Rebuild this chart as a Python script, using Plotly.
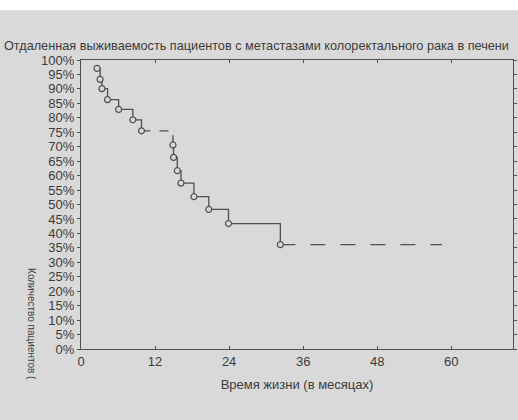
import plotly.graph_objects as go

# Kaplan-Meier estimate
months = [2.6, 3.1, 3.4, 4.3, 6.1, 8.4, 9.8, 14.9, 15.0, 15.6, 16.2, 18.3, 20.7, 23.9, 32.3]
survival = [97.1, 93.3, 90.1, 86.3, 82.9, 79.3, 75.5, 70.6, 66.3, 61.7, 57.4, 52.7, 48.3, 43.4, 36.1]
last_follow_up = 58.5

x_ticks = [0, 12, 24, 36, 48, 60]
y_ticks = list(range(0, 101, 5))
y_tick_labels = [f"{v}%" for v in y_ticks]

title_text = "Отдаленная выживаемость пациентов с метастазами колоректального рака в печени"
x_title = "Время жизни (в месяцах)"
y_title = "Количество пациентов ("

BG = "#d9d9d9"
INK = "#505050"
TXT = "#3c3c3c"
FONT = "Liberation Sans, Arial, sans-serif"

fig = go.Figure()

dashed_idx = {6}
for i in range(len(months) - 1):
    fig.add_trace(go.Scatter(
        x=[months[i], months[i + 1], months[i + 1]],
        y=[survival[i], survival[i], survival[i + 1]],
        mode="lines", line=dict(color=INK, width=1.3,
                                dash="dash" if i in dashed_idx else "solid"),
        hoverinfo="skip", showlegend=False))
fig.add_trace(go.Scatter(
    x=[months[-1], last_follow_up], y=[survival[-1], survival[-1]],
    mode="lines", line=dict(color=INK, width=1.3, dash="longdash"),
    hoverinfo="skip", showlegend=False))
fig.add_trace(go.Scatter(
    x=months, y=survival, mode="markers",
    marker=dict(symbol="circle", size=6, color=BG, line=dict(color=INK, width=1.2)),
    showlegend=False))

axis_common = dict(showline=True, linecolor=INK, linewidth=1.3, mirror="ticks",
                   showgrid=False, zeroline=False, ticks="inside", ticklen=3,
                   tickcolor=INK, automargin=False,
                   tickfont=dict(family=FONT, size=13, color=TXT))

fig.update_xaxes(range=[0, 70], tickvals=x_ticks, **axis_common,
                 title=dict(text=x_title, font=dict(family=FONT, size=13, color=TXT),
                            standoff=12))
fig.update_yaxes(range=[0, 100], tickvals=y_ticks, ticktext=y_tick_labels, **axis_common)
fig.update_yaxes(ticks="outside", ticklen=3)

fig.add_annotation(text=title_text, xref="paper", yref="paper", x=-0.184, y=1.048,
                   xanchor="left", yanchor="middle", showarrow=False,
                   font=dict(family=FONT, size=12.7, color=TXT))
fig.add_annotation(text=y_title, xref="paper", yref="paper", x=-0.115, y=0.085,
                   xanchor="center", yanchor="middle", showarrow=False, textangle=90,
                   font=dict(family=FONT, size=10, color=TXT))

fig.add_shape(type="rect", xref="paper", yref="paper", x0=-0.3, x1=1.1,
              y0=1.172, y1=1.3, fillcolor="white", line=dict(width=0), layer="above")

fig.update_layout(width=518, height=420, paper_bgcolor=BG, plot_bgcolor=BG,
                  margin=dict(l=81, r=5, t=60, b=71), showlegend=False)

fig.write_html("out.html", config={"displayModeBar": False},
               post_script="document.body.style.margin='0';document.body.style.background='#ffffff';")
